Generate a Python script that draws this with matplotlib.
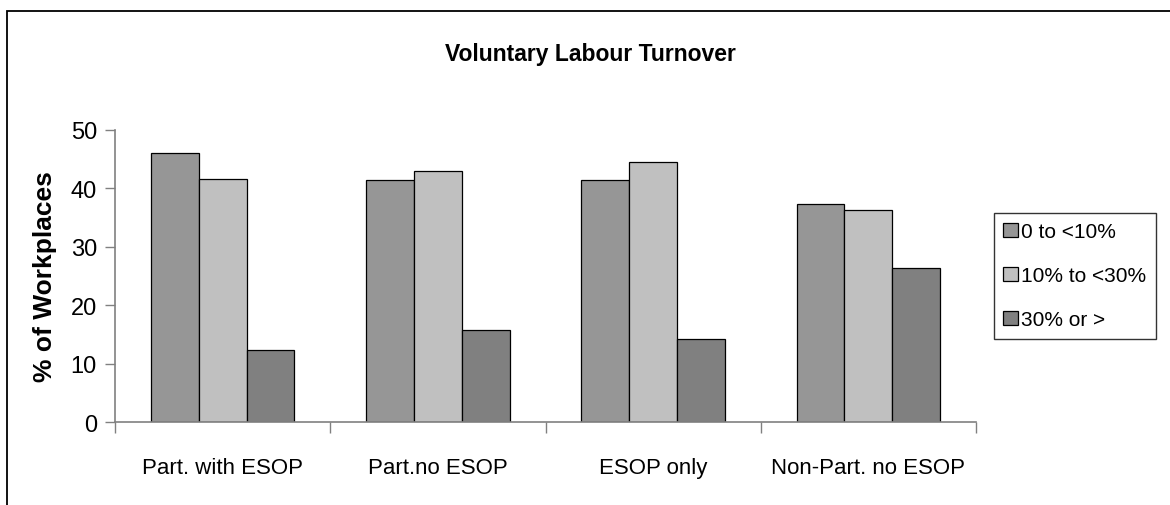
import matplotlib
matplotlib.use("Agg")
import matplotlib.pyplot as plt
import numpy as np
from matplotlib.patches import Rectangle

# chart data
categories = ["Part. with ESOP", "Part.no ESOP", "ESOP only", "Non-Part. no ESOP"]
series_names = ["0 to <10%", "10% to <30%", "30% or >"]
low_turnover = [46.0, 41.4, 41.4, 37.3]
mid_turnover = [41.5, 43.0, 44.5, 36.2]
high_turnover = [12.3, 15.7, 14.3, 26.4]
y_ticks = [0, 10, 20, 30, 40, 50]

colors = ["#969696", "#c0c0c0", "#808080"]

plt.rcParams["font.family"] = ["Liberation Sans", "DejaVu Sans"]

W, H = 1170, 506
fig = plt.figure(figsize=(W / 100, H / 100), dpi=100)

# outer chart frame (runs off the right and bottom edges)
fig.patches.append(Rectangle((7 / W, -0.1), 1.2, 1 - 12 / H + 0.1,
                             transform=fig.transFigure, fill=False,
                             edgecolor="black", linewidth=1.3))

ax = fig.add_axes([115 / W, (H - 423.3) / H, 861 / W, 292.6 / H])

x = np.arange(len(categories))
bw = 0.222
for i, vals in enumerate([low_turnover, mid_turnover, high_turnover]):
    ax.bar(x + (i - 1) * bw, vals, width=bw, color=colors[i],
           edgecolor="black", linewidth=0.9, label=series_names[i])

ax.set_xlim(-0.5, len(categories) - 0.5)
ax.set_ylim(0, 50)
ax.set_yticks(y_ticks)
ax.set_xticks(x)
ax.set_xticklabels(categories, fontsize=16)
ax.set_xticks(np.arange(len(categories) + 1) - 0.5, minor=True)
ax.tick_params(axis="x", which="major", length=0, pad=25)
ax.tick_params(axis="x", which="minor", length=8, width=1, color="#808080", direction="out")
ax.tick_params(axis="y", length=7, width=1, color="#808080", direction="out", labelsize=17, pad=6)

for s in ["top", "right"]:
    ax.spines[s].set_visible(False)
for s in ["left", "bottom"]:
    ax.spines[s].set_color("#808080")
    ax.spines[s].set_linewidth(1.2)

ax.set_ylabel("% of Workplaces", fontsize=19, fontweight="bold", labelpad=10)

fig.text(590 / W, 1 - 54 / H, "Voluntary Labour Turnover", ha="center", va="center",
         fontsize=16.5, fontweight="bold")

leg = ax.legend(loc="upper left", bbox_to_anchor=(994 / W, 1 - 214 / H),
                bbox_transform=fig.transFigure, fontsize=15, frameon=True,
                fancybox=False, edgecolor="black", handlelength=0.7, handleheight=0.7,
                handletextpad=0.15, labelspacing=1.2, borderpad=0.45, borderaxespad=0)
leg.get_frame().set_linewidth(1.0)

fig.savefig("out.png", dpi=100)
